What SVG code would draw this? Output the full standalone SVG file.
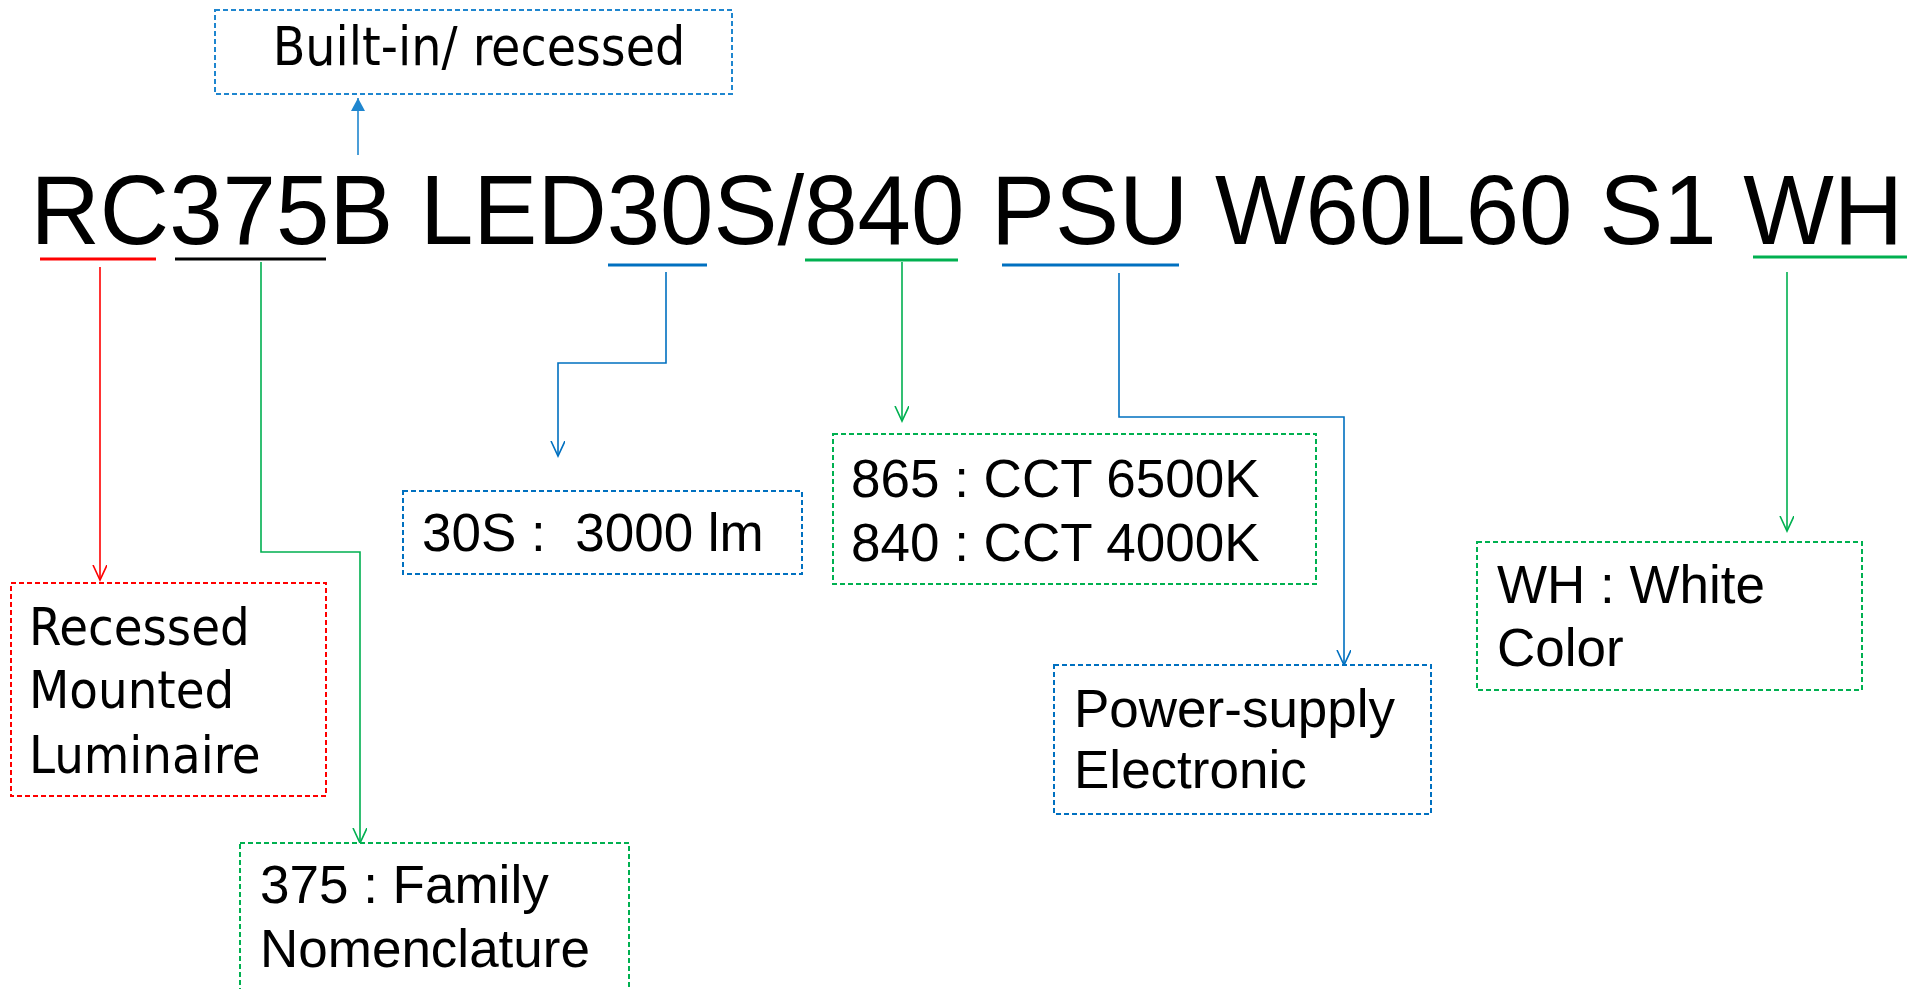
<svg xmlns="http://www.w3.org/2000/svg" width="1919" height="989" viewBox="0 0 1919 989">
<defs>
<style>
.box{fill:#fff;stroke-width:2;stroke-dasharray:5 3}
.rb{stroke:#FF0000}.gb{stroke:#00B050}.bb{stroke:#0070C0}.tb{stroke:#1F86CF}
.ar{font-family:"Liberation Sans",Arial,sans-serif;font-size:53px;fill:#000}
.ta{font-family:"DejaVu Sans Condensed","DejaVu Sans",sans-serif;font-stretch:condensed;font-size:53px;fill:#000}
.ln{fill:none;stroke-width:1.6}
.ul{stroke-width:3}
</style>
<marker id="mr" markerUnits="userSpaceOnUse" markerWidth="20" markerHeight="20" refX="15" refY="7" orient="auto"><path d="M0,0 L15,7 L0,14" fill="none" stroke="#FF0000" stroke-width="1.6"/></marker>
<marker id="mg" markerUnits="userSpaceOnUse" markerWidth="20" markerHeight="20" refX="15" refY="7" orient="auto"><path d="M0,0 L15,7 L0,14" fill="none" stroke="#00B050" stroke-width="1.6"/></marker>
<marker id="mb" markerUnits="userSpaceOnUse" markerWidth="20" markerHeight="20" refX="15" refY="7" orient="auto"><path d="M0,0 L15,7 L0,14" fill="none" stroke="#0070C0" stroke-width="1.6"/></marker>
<marker id="mt" markerUnits="userSpaceOnUse" markerWidth="20" markerHeight="20" refX="13" refY="7" orient="auto"><path d="M0,0 L13,7 L0,14 Z" fill="#1F86CF"/></marker>
</defs>
<rect width="1919" height="989" fill="#fff"/>

<g id="code">
<text transform="translate(30.5,244) scale(1,1.031)" x="0" y="0" font-family="'Liberation Sans',Arial,sans-serif" font-size="96" fill="#000">RC375B LED30S/840 PSU W60L60 S1 WH</text>
</g>

<g id="connectors">
<line class="ul" x1="40" y1="259" x2="156" y2="259" stroke="#FF0000"/>
<line class="ul" x1="175" y1="259" x2="326" y2="259" stroke="#000"/>
<line class="ul" x1="608" y1="265" x2="707" y2="265" stroke="#0070C0"/>
<line class="ul" x1="805" y1="260" x2="958" y2="260" stroke="#00B050"/>
<line class="ul" x1="1002" y1="265" x2="1179" y2="265" stroke="#0070C0"/>
<line class="ul" x1="1753" y1="257" x2="1907" y2="257" stroke="#00B050"/>
<path class="ln" stroke="#1F86CF" d="M358,155 V98" marker-end="url(#mt)" stroke-width="2"/>
<path class="ln" stroke="#FF0000" d="M100,267 V580" marker-end="url(#mr)"/>
<path class="ln" stroke="#00B050" d="M261,262 V552 H360 V843" marker-end="url(#mg)"/>
<path class="ln" stroke="#0070C0" d="M666,272 V363 H558 V456" marker-end="url(#mb)"/>
<path class="ln" stroke="#00B050" d="M902,262 V421" marker-end="url(#mg)"/>
<path class="ln" stroke="#0070C0" d="M1119,273 V417 H1344 V665" marker-end="url(#mb)"/>
<path class="ln" stroke="#00B050" d="M1787,272 V531" marker-end="url(#mg)"/>
</g>

<g id="n-top">
<rect class="box tb" x="215" y="10" width="517" height="84"/>
<text class="ta" x="479" y="65" text-anchor="middle">Built-in/ recessed</text>
</g>
<g id="n-rc">
<rect class="box rb" x="11" y="583" width="315" height="213"/>
<text class="ta" x="29" y="645" style="font-size:52px">Recessed</text>
<text class="ta" x="29" y="708" style="font-size:52px">Mounted</text>
<text class="ta" x="29" y="773" style="font-size:52px">Luminaire</text>
</g>
<g id="n-375">
<rect class="box gb" x="240" y="843" width="389" height="170"/>
<text class="ar" x="260" y="903">375 : Family</text>
<text class="ar" x="260" y="967">Nomenclature</text>
</g>
<g id="n-30s">
<rect class="box bb" x="403" y="491" width="399" height="83"/>
<text class="ar" x="422" y="551" xml:space="preserve">30S :  3000 lm</text>
</g>
<g id="n-840">
<rect class="box gb" x="833" y="434" width="483" height="150"/>
<text class="ar" x="851" y="497">865 : CCT 6500K</text>
<text class="ar" x="851" y="561">840 : CCT 4000K</text>
</g>
<g id="n-psu">
<rect class="box bb" x="1054" y="665" width="377" height="149"/>
<text class="ar" x="1074" y="727">Power-supply</text>
<text class="ar" x="1074" y="788">Electronic</text>
</g>
<g id="n-wh">
<rect class="box gb" x="1477" y="542" width="385" height="148"/>
<text class="ar" x="1497" y="603">WH : White</text>
<text class="ar" x="1497" y="666">Color</text>
</g>
</svg>
